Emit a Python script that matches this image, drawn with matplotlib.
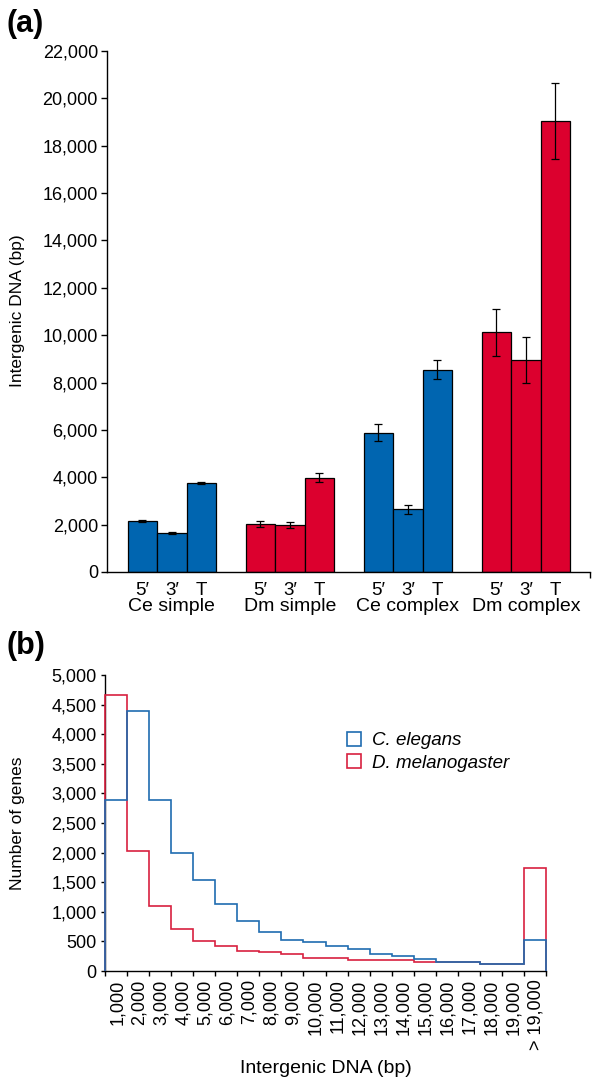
import numpy as np
import matplotlib
matplotlib.use("Agg")
import matplotlib.pyplot as plt
from matplotlib.patches import Patch
from matplotlib.ticker import FuncFormatter

plt.rcParams["font.family"] = ["Liberation Sans", "DejaVu Sans"]

# panel (a): mean intergenic DNA per gene class
groups = ["Ce simple", "Dm simple", "Ce complex", "Dm complex"]
bar_labels = ["5\u2032", "3\u2032", "T"]
ce_simple = [2160, 1640, 3760]
ce_simple_err = [50, 40, 60]
dm_simple = [2010, 2000, 3990]
dm_simple_err = [130, 130, 190]
ce_complex = [5890, 2650, 8550]
ce_complex_err = [350, 190, 410]
dm_complex = [10130, 8940, 19040]
dm_complex_err = [990, 975, 1620]

# panel (b): distribution of intergenic DNA lengths
bin_labels = ["1,000", "2,000", "3,000", "4,000", "5,000", "6,000", "7,000",
              "8,000", "9,000", "10,000", "11,000", "12,000", "13,000",
              "14,000", "15,000", "16,000", "17,000", "18,000", "19,000",
              "> 19,000"]
ce_counts = [2890, 4400, 2890, 2000, 1540, 1140, 850, 660, 530, 490,
             430, 370, 290, 250, 195, 155, 150, 125, 115, 530]
dm_counts = [4670, 2020, 1090, 710, 515, 425, 340, 320, 280, 225,
             225, 180, 180, 180, 150, 150, 155, 125, 115, 1745]

BAR_BLUE = "#0065b0"
BAR_RED = "#dc002e"
LINE_BLUE = "#1f6cb0"
LINE_RED = "#d8203f"

W, H = 600, 1092
fig = plt.figure(figsize=(W / 100, H / 100), dpi=100)

comma = FuncFormatter(lambda v, _: f"{int(v):,}")

# ---- (a) ----
ax = fig.add_axes([107 / W, 1 - 572 / H, (590 - 107) / W, (572 - 51) / H])
series = [(ce_simple, ce_simple_err, BAR_BLUE),
          (dm_simple, dm_simple_err, BAR_RED),
          (ce_complex, ce_complex_err, BAR_BLUE),
          (dm_complex, dm_complex_err, BAR_RED)]
centers = []
for g, (vals, errs, col) in enumerate(series):
    x = 1.2 + 4 * g + np.arange(len(vals))
    centers.extend(x)
    ax.bar(x, vals, width=1.0, color=col, edgecolor="black", linewidth=0.9,
           yerr=errs, capsize=3, error_kw=dict(elinewidth=0.9, capthick=0.9, ecolor="black"))
    fig.text((107 + (x.mean()) * 29.5) / W, 1 - 598 / H, groups[g],
             ha="center", va="top", fontsize=14)

ax.set_xlim(0, (590 - 107) / 29.5)
ax.set_ylim(0, 22000)
ax.set_yticks(np.arange(0, 22001, 2000))
ax.yaxis.set_major_formatter(comma)
ax.set_xticks(centers)
ax.set_xticklabels(bar_labels * 4, fontsize=13.5)
ax.tick_params(axis="x", length=0, pad=7)
ax.set_xticks([(590 - 107) / 29.5], minor=True)
ax.tick_params(axis="x", which="minor", length=4, width=1, direction="out")
ax.tick_params(axis="y", length=4.5, width=1, direction="out", pad=2, labelsize=13)
for s in ["top", "right"]:
    ax.spines[s].set_visible(False)
for s in ["left", "bottom"]:
    ax.spines[s].set_linewidth(1.0)
fig.text(18 / W, 1 - 311 / H, "Intergenic DNA (bp)", rotation=90,
         ha="center", va="center", fontsize=12.5)
fig.text(7 / W, 1 - 24 / H, "(a)", fontsize=22, fontweight="bold", va="center", ha="left")

# ---- (b) ----
bx = fig.add_axes([105 / W, 1 - 971 / H, (546 - 105) / W, (971 - 675) / H])
edges = np.arange(len(ce_counts) + 1)
bx.stairs(dm_counts, edges, baseline=0, fill=False, color=LINE_RED,
          linewidth=1.2, zorder=3, clip_on=False)
bx.stairs(ce_counts, edges, baseline=0, fill=False, color=LINE_BLUE,
          linewidth=1.2, zorder=4, clip_on=False)
bx.set_xlim(0, len(ce_counts))
bx.set_ylim(0, 5000)
bx.set_yticks(np.arange(0, 5001, 500))
bx.yaxis.set_major_formatter(comma)
bx.set_xticks(edges)
bx.set_xticklabels([])
bx.set_xticks(edges[:-1] + 0.55, minor=True)
bx.set_xticklabels(bin_labels, minor=True, rotation=90, fontsize=13)
bx.tick_params(axis="x", which="major", length=3.5, width=1, direction="out")
bx.tick_params(axis="x", which="minor", length=0, pad=6)
bx.tick_params(axis="y", length=3, width=1, direction="out", pad=3, labelsize=13)
for s in ["top", "right"]:
    bx.spines[s].set_visible(False)
for s in ["left", "bottom"]:
    bx.spines[s].set_linewidth(1.0)
bx.set_xlabel("Intergenic DNA (bp)", fontsize=14, labelpad=7)
fig.text(18 / W, 1 - 823 / H, "Number of genes", rotation=90,
         ha="center", va="center", fontsize=12.5)
fig.text(7 / W, 1 - 646 / H, "(b)", fontsize=22, fontweight="bold", va="center", ha="left")

handles = [Patch(facecolor="white", edgecolor=LINE_BLUE, linewidth=1.2),
           Patch(facecolor="white", edgecolor=LINE_RED, linewidth=1.2)]
leg = fig.legend(handles, ["C. elegans", "D. melanogaster"],
                 loc="upper left", bbox_to_anchor=(347 / W, 1 - 732 / H),
                 frameon=False, borderpad=0, borderaxespad=0,
                 handlelength=0.75, handleheight=0.75, handletextpad=0.6,
                 labelspacing=0.25, prop=dict(size=13.5, style="italic"))

fig.savefig("out.png", dpi=100)
